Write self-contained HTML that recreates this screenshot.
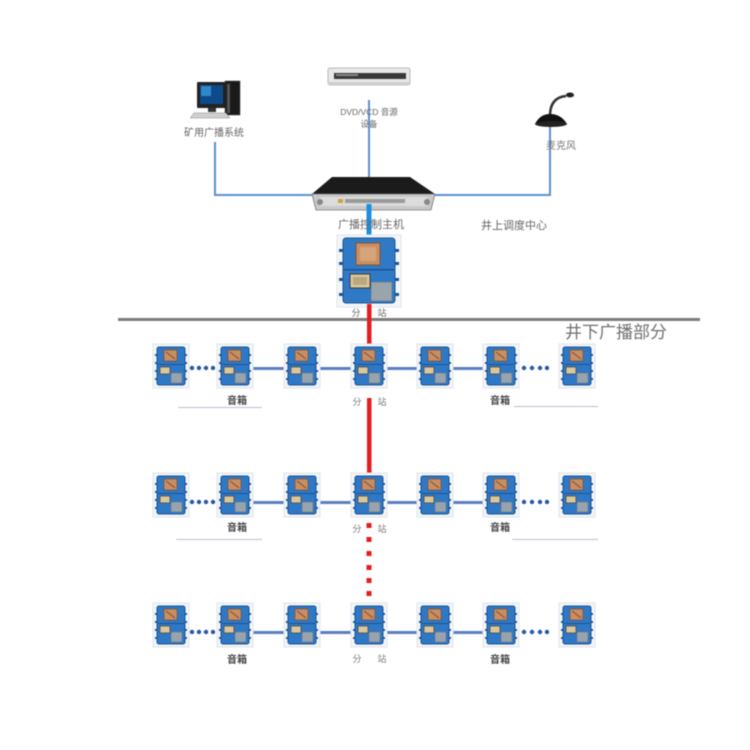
<!DOCTYPE html>
<html><head><meta charset="utf-8">
<style>
html,body{margin:0;padding:0;background:#fff;}
svg{display:block;filter:blur(0.4px);}
text{font-family:"Liberation Sans","Noto Sans CJK SC",sans-serif;}
</style></head>
<body>
<svg width="750" height="750" viewBox="0 0 750 750" xmlns="http://www.w3.org/2000/svg">
<defs>
  <g id="sb">
    <rect x="-2" y="-2" width="36" height="44" fill="#f3f6f9" stroke="#dfe4ea" stroke-width="1"/>
    <rect x="0" y="8" width="3" height="2" fill="#1c5596"/>
    <rect x="0" y="16" width="3" height="2" fill="#1c5596"/>
    <rect x="0" y="24" width="3" height="2" fill="#1c5596"/>
    <rect x="0" y="32" width="3" height="2" fill="#1c5596"/>
    <rect x="29" y="8" width="3" height="2" fill="#1c5596"/>
    <rect x="29" y="16" width="3" height="2" fill="#1c5596"/>
    <rect x="29" y="24" width="3" height="2" fill="#1c5596"/>
    <rect x="29" y="32" width="3" height="2" fill="#1c5596"/>
    <rect x="2" y="1" width="28" height="38" rx="2" fill="#2e78c6" stroke="#1b5493" stroke-width="1"/>
    <rect x="3" y="18" width="26" height="1" fill="#1b5493"/>
    <rect x="9" y="4" width="13" height="11" fill="#c98f63" stroke="#7d5439" stroke-width="0.8"/>
    <line x1="11" y1="6" x2="20" y2="13" stroke="#8c5a3c" stroke-width="1.2"/>
    <rect x="5" y="21" width="10" height="7" fill="#d9c69c" stroke="#4a4a4a" stroke-width="0.8"/>
    <rect x="16" y="27" width="11" height="10" fill="#99a3ad" stroke="#6b7680" stroke-width="0.6"/>
  </g>
</defs>

<!-- top connector lines -->
<g stroke="#5b8fd0" stroke-width="2" fill="none">
  <polyline points="215,142 215,195 314,195"/>
  <polyline points="433,195 550,195 550,127"/>
  <line x1="369" y1="100" x2="369" y2="178"/>
</g>

<!-- computer -->
<g>
  <rect x="225" y="81" width="15" height="34" fill="#1a1a1a" stroke="#444" stroke-width="0.5"/>
  <rect x="227" y="84" width="3" height="29" fill="#555"/>
  <rect x="197" y="82" width="29" height="26" fill="#222" rx="1"/>
  <rect x="200" y="85" width="23" height="19" fill="#0c4b8a"/>
  <rect x="201" y="86" width="10" height="10" fill="#3ea3e8" opacity="0.7"/>
  <rect x="208" y="108" width="8" height="4" fill="#333"/>
  <polygon points="194,113 226,113 230,118 190,118" fill="#cfcfcf" stroke="#888" stroke-width="0.5"/>
</g>
<text x="214" y="136" font-size="10" fill="#666" text-anchor="middle">矿用广播系统</text>

<!-- DVD -->
<g>
  <rect x="328" y="68" width="82" height="17" rx="2" fill="#e8e8e8" stroke="#b8b8b8" stroke-width="1"/>
  <rect x="334" y="73" width="72" height="6" fill="#3a3a3a"/>
  <rect x="336" y="74" width="22" height="2" fill="#888"/>
  <rect x="328" y="82" width="82" height="3" fill="#cfcfcf"/>
</g>
<text x="369" y="115" font-size="8.5" fill="#666" text-anchor="middle">DVD/VCD 音源</text>
<text x="369" y="127" font-size="8.5" fill="#666" text-anchor="middle">设备</text>

<!-- microphone -->
<g>
  <path d="M550,116 C550,104 555,97 566,96" stroke="#333" stroke-width="2.5" fill="none"/>
  <ellipse cx="570" cy="95" rx="4" ry="2.5" fill="#222"/>
  <path d="M535,124 Q540,114 550,114 Q561,114 567,124 Z" fill="#111"/>
  <ellipse cx="551" cy="124" rx="16" ry="3" fill="#222"/>
</g>
<text x="561" y="149" font-size="10" fill="#777" text-anchor="middle">麦克风</text>

<!-- host device -->
<g>
  <polygon points="332,177 410,177 435,194 312,194" fill="#1b1b1b"/>
  <polygon points="312,194 435,194 431,210 316,210" fill="#c9c9c9" stroke="#777" stroke-width="0.8"/>
  <rect x="320" y="197" width="107" height="9" fill="#dcdcdc"/>
  <rect x="345" y="199" width="60" height="4" fill="#9a9a9a"/>
  <rect x="338" y="199" width="5" height="4" fill="#c8a640"/>
  <circle cx="320" cy="202" r="3" fill="#888"/>
  <circle cx="427" cy="202" r="3" fill="#888"/>
</g>

<!-- thick blue link host->main box -->
<rect x="366.5" y="204" width="5" height="34" fill="#1a8fe3"/>
<text x="371" y="228" font-size="11" fill="#666" text-anchor="middle">广播控制主机</text>
<text x="514" y="229" font-size="11" fill="#666" text-anchor="middle">井上调度中心</text>

<!-- main box -->
<g>
  <rect x="337" y="235" width="64" height="72" fill="#f3f6f9" stroke="#e0e5ea"/>
  <g fill="#1c5596">
    <rect x="339" y="249" width="5" height="3"/><rect x="339" y="262" width="5" height="3"/>
    <rect x="339" y="278" width="5" height="3"/><rect x="339" y="293" width="5" height="3"/>
    <rect x="394" y="249" width="5" height="3"/><rect x="394" y="262" width="5" height="3"/>
    <rect x="394" y="278" width="5" height="3"/><rect x="394" y="293" width="5" height="3"/>
  </g>
  <rect x="343" y="238" width="52" height="65" rx="3" fill="#2f79c7" stroke="#1b5493"/>
  <rect x="344" y="269" width="50" height="1.5" fill="#1b5493"/>
  <rect x="356" y="243" width="24" height="22" fill="#c98f63" stroke="#7d5439"/>
  <rect x="360" y="247" width="16" height="14" fill="#d7a37a"/>
  <rect x="350" y="274" width="20" height="14" fill="#d9c69c" stroke="#3d3d3d"/>
  <rect x="353" y="277" width="14" height="8" fill="#b9a77f"/>
  <rect x="371" y="282" width="21" height="19" fill="#9aa4ad" stroke="#6b7680" stroke-width="0.6"/>
</g>

<!-- ground line -->
<rect x="118" y="318" width="582" height="3" fill="#7d7d7d"/>
<text x="616" y="338" font-size="17" fill="#707070" text-anchor="middle">井下广播部分</text>

<!-- red links -->
<rect x="367" y="304" width="4.5" height="44" fill="#e41e1e"/>
<rect x="367" y="398" width="4.5" height="79" fill="#e41e1e"/>
<g fill="#e41e1e">
  <rect x="366.5" y="523" width="5" height="5"/>
  <rect x="366.5" y="537" width="5" height="5"/>
  <rect x="366.5" y="551" width="5" height="5"/>
  <rect x="366.5" y="565" width="5" height="5"/>
  <rect x="366.5" y="578" width="5" height="5"/>
  <rect x="366.5" y="591" width="5" height="5"/>
  <rect x="367" y="603" width="4" height="2"/>
</g>
<text x="356" y="316" font-size="9" fill="#666" text-anchor="middle">分</text>
<text x="382" y="316" font-size="9" fill="#666" text-anchor="middle">站</text>

<!-- ROW 1 -->
<g transform="translate(0,346)">
  <g fill="#5b7fc4">
    <rect x="252" y="21" width="34" height="3"/>
    <rect x="317" y="21" width="37" height="3"/>
    <rect x="383" y="21" width="36" height="3"/>
    <rect x="450" y="21" width="35" height="3"/>
  </g>
  <g fill="#2756a6">
    <circle cx="192" cy="22" r="2.2"/><circle cx="199" cy="22" r="2.2"/><circle cx="206" cy="22" r="2.2"/><circle cx="213" cy="22" r="2.2"/>
    <circle cx="524" cy="22" r="2.2"/><circle cx="532" cy="22" r="2.2"/><circle cx="540" cy="22" r="2.2"/><circle cx="547" cy="22" r="2.2"/>
  </g>
  <use href="#sb" x="155" y="0"/>
  <use href="#sb" x="219" y="0"/>
  <use href="#sb" x="286" y="0"/>
  <use href="#sb" x="353" y="0"/>
  <use href="#sb" x="419" y="0"/>
  <use href="#sb" x="485" y="0"/>
  <use href="#sb" x="561" y="0"/>
  <text x="237" y="58" font-size="10" fill="#444" text-anchor="middle" font-weight="bold">音箱</text>
  <text x="500" y="58" font-size="10" fill="#444" text-anchor="middle" font-weight="bold">音箱</text>
  <text x="357" y="59" font-size="9" fill="#777" text-anchor="middle">分</text>
  <text x="382" y="59" font-size="9" fill="#777" text-anchor="middle">站</text>
  <rect x="178" y="61" width="84" height="1" fill="#b8c2d0"/>
  <rect x="514" y="60" width="84" height="1" fill="#b8c2d0"/>
</g>

<!-- ROW 2 -->
<g transform="translate(0,475)">
  <g fill="#5b7fc4">
    <rect x="252" y="26" width="34" height="3"/>
    <rect x="317" y="26" width="37" height="3"/>
    <rect x="383" y="26" width="36" height="3"/>
    <rect x="450" y="26" width="35" height="3"/>
  </g>
  <g fill="#2756a6">
    <circle cx="192" cy="27" r="2.2"/><circle cx="199" cy="27" r="2.2"/><circle cx="206" cy="27" r="2.2"/><circle cx="213" cy="27" r="2.2"/>
    <circle cx="524" cy="27" r="2.2"/><circle cx="532" cy="27" r="2.2"/><circle cx="540" cy="27" r="2.2"/><circle cx="547" cy="27" r="2.2"/>
  </g>
  <use href="#sb" x="155" y="0"/>
  <use href="#sb" x="219" y="0"/>
  <use href="#sb" x="286" y="0"/>
  <use href="#sb" x="353" y="0"/>
  <use href="#sb" x="419" y="0"/>
  <use href="#sb" x="485" y="0"/>
  <use href="#sb" x="561" y="0"/>
  <text x="237" y="56" font-size="10" fill="#444" text-anchor="middle" font-weight="bold">音箱</text>
  <text x="500" y="56" font-size="10" fill="#444" text-anchor="middle" font-weight="bold">音箱</text>
  <text x="357" y="57" font-size="9" fill="#777" text-anchor="middle">分</text>
  <text x="382" y="57" font-size="9" fill="#777" text-anchor="middle">站</text>
  <rect x="176" y="64" width="86" height="1" fill="#b8c2d0"/>
  <rect x="512" y="64" width="86" height="1" fill="#b8c2d0"/>
</g>

<!-- ROW 3 -->
<g transform="translate(0,605)">
  <g fill="#5b7fc4">
    <rect x="252" y="26" width="34" height="3"/>
    <rect x="317" y="26" width="37" height="3"/>
    <rect x="383" y="26" width="36" height="3"/>
    <rect x="450" y="26" width="35" height="3"/>
  </g>
  <g fill="#2756a6">
    <circle cx="192" cy="27" r="2.2"/><circle cx="199" cy="27" r="2.2"/><circle cx="206" cy="27" r="2.2"/><circle cx="213" cy="27" r="2.2"/>
    <circle cx="524" cy="27" r="2.2"/><circle cx="532" cy="27" r="2.2"/><circle cx="540" cy="27" r="2.2"/><circle cx="547" cy="27" r="2.2"/>
  </g>
  <use href="#sb" x="155" y="0"/>
  <use href="#sb" x="219" y="0"/>
  <use href="#sb" x="286" y="0"/>
  <use href="#sb" x="353" y="0"/>
  <use href="#sb" x="419" y="0"/>
  <use href="#sb" x="485" y="0"/>
  <use href="#sb" x="561" y="0"/>
  <text x="237" y="58" font-size="10" fill="#444" text-anchor="middle" font-weight="bold">音箱</text>
  <text x="500" y="58" font-size="10" fill="#444" text-anchor="middle" font-weight="bold">音箱</text>
  <text x="357" y="57" font-size="9" fill="#777" text-anchor="middle">分</text>
  <text x="382" y="57" font-size="9" fill="#777" text-anchor="middle">站</text>
</g>
</svg>
</body></html>
